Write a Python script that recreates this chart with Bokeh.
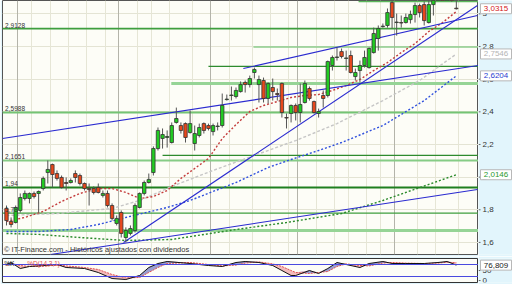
import numpy as np
from bokeh.plotting import figure
from bokeh.layouts import column, row
from bokeh.models import (Range1d, FixedTicker, Label, Grid, ColumnDataSource, Span)
from bokeh.core.properties import value
from bokeh.embed import file_html
from bokeh.resources import INLINE

# ---------------- data ----------------
opens = [1.808,1.728,1.722,1.796,1.869,1.869,1.900,1.900,1.930,2.028,
 2.077,2.022,1.998,1.967,1.967,2.022,2.010,1.961,1.930,1.930,
 1.937,1.888,1.900,1.826,1.716,1.783,1.630,1.655,1.673,1.814,
 1.900,1.967,2.028,2.175,2.237,2.243,2.212,2.335,2.316,2.328,
 2.273,2.206,2.255,2.328,2.316,2.279,2.310,2.316,2.475,2.500,
 2.494,2.524,2.580,2.567,2.641,2.567,2.592,2.482,2.549,2.512,
 2.573,2.365,2.390,2.439,2.396,2.457,2.543,2.463,2.390,2.500,
 2.500,2.684,2.733,2.769,2.727,2.745,2.616,2.653,2.684,2.671,
 2.763,2.849,2.922,2.929,3.069,2.947,2.947,2.947,2.965,2.996,
 3.051,3.057,2.947,3.057,3.094,3.120,3.105,3.125,3.035]
highs = [1.826,1.753,1.826,1.900,1.918,1.906,1.912,1.918,2.004,2.102,
 2.083,2.041,2.010,1.998,1.992,2.041,2.022,1.967,1.961,1.943,
 1.961,1.918,1.918,1.839,1.765,1.796,1.692,1.704,1.839,1.906,
 1.979,2.022,2.188,2.304,2.298,2.286,2.335,2.426,2.335,2.335,
 2.408,2.316,2.328,2.335,2.328,2.328,2.335,2.512,2.506,2.555,
 2.549,2.586,2.592,2.622,2.671,2.622,2.610,2.580,2.604,2.543,
 2.580,2.390,2.445,2.451,2.573,2.592,2.555,2.469,2.420,2.531,
 2.714,2.745,2.794,2.788,2.775,2.775,2.665,2.714,2.775,2.794,
 2.916,2.929,2.941,3.033,3.082,3.002,2.990,3.002,3.020,3.069,
 3.063,3.076,3.082,3.118,3.140,3.150,3.140,3.150,3.110]
lows = [1.704,1.692,1.716,1.783,1.857,1.839,1.869,1.783,1.918,1.961,
 1.937,1.979,1.930,1.918,1.961,1.967,1.949,1.918,1.826,1.894,
 1.900,1.875,1.814,1.734,1.704,1.630,1.600,1.643,1.661,1.808,
 1.888,1.961,2.010,2.163,2.175,2.181,2.206,2.328,2.267,2.212,
 2.267,2.163,2.243,2.267,2.286,2.255,2.286,2.304,2.469,2.469,
 2.482,2.518,2.518,2.549,2.604,2.457,2.457,2.451,2.469,2.469,
 2.365,2.298,2.335,2.347,2.335,2.451,2.469,2.390,2.365,2.426,
 2.488,2.653,2.714,2.727,2.653,2.635,2.592,2.580,2.671,2.665,
 2.757,2.775,2.916,2.916,2.910,2.867,2.916,2.941,2.941,2.947,
 2.978,2.929,2.941,2.990,3.080,3.090,3.085,3.075,3.027]
closes = [1.734,1.710,1.814,1.875,1.900,1.900,1.881,1.912,1.992,2.047,
 2.016,1.992,1.937,1.961,1.979,1.998,1.961,1.930,1.924,1.906,
 1.906,1.900,1.826,1.747,1.747,1.655,1.673,1.685,1.826,1.900,
 1.967,1.986,2.175,2.286,2.261,2.249,2.316,2.359,2.286,2.243,
 2.328,2.267,2.304,2.286,2.298,2.316,2.313,2.439,2.478,2.503,
 2.531,2.567,2.567,2.604,2.659,2.598,2.482,2.573,2.524,2.506,
 2.396,2.362,2.439,2.396,2.445,2.573,2.482,2.396,2.402,2.482,
 2.708,2.733,2.736,2.739,2.730,2.641,2.641,2.684,2.733,2.788,
 2.880,2.910,2.925,3.008,2.978,2.950,2.944,2.978,2.996,3.051,
 3.008,2.959,3.057,3.094,3.120,3.105,3.125,3.090,3.0315]

# moving averages (index, value)
ma_red_i = [0,4,8,12,16,20,23,26,29,32,35,38,41,44,47,50,53,56,59,62,65,68,71,74,77,80,83,86,89,92,95,98]
ma_red_v = [1.728,1.753,1.790,1.851,1.900,1.930,1.930,1.906,1.869,1.881,1.918,1.992,2.053,2.114,2.236,2.322,2.402,2.439,2.463,2.488,2.500,2.506,2.531,2.561,2.598,2.653,2.702,2.763,2.818,2.892,2.947,3.014]
ma_gray_i = [0,11,23,29,36,45,54,63,72,82,90,98]
ma_gray_v = [1.765,1.777,1.808,1.857,1.943,2.041,2.133,2.224,2.328,2.469,2.592,2.7546]
ma_blue_i = [0,7,14,20,26,35,40,50,57,62,68,73,82,91,98]
ma_blue_v = [1.667,1.667,1.679,1.710,1.753,1.814,1.857,1.967,2.059,2.108,2.163,2.212,2.316,2.469,2.6204]
ma_green_i = [0,7,16,26,36,50,61,73,82,98]
ma_green_v = [1.655,1.649,1.630,1.612,1.618,1.679,1.722,1.777,1.857,2.0146]

# horizontal support / resistance levels
h_levels = [3.076, 2.910, 2.797, 2.678, 2.573, 2.396, 2.133, 2.102, 1.937, 1.780, 1.673]
h_start = [76.7, -0.87, 53.8, 44.0, 35.9, -0.87, 34.0, -0.87, -0.87, -0.87, -0.87]
h_label_text = ["2,9128", "2,5988", "2,1651", "1,94", "1,78"]
h_label_level = [2.910, 2.396, 2.102, 1.937, 1.780]

# trend lines (index, price) endpoints
tr_x0 = [-0.87, 51.6, 25.5, 9.6]
tr_y0 = [2.237, 2.665, 1.600, 1.526]
tr_x1 = [102.83, 102.6, 102.6, 102.6]
tr_y1 = [2.684, 2.990, 3.051, 1.924]

price_ticks = [1.6, 1.8, 2.0, 2.2, 2.4, 2.6, 2.8, 3.0]
price_tick_labels = ["1,6", "1,8", "2", "2,2", "2,4", "2,6", "2,8", "3"]

# stochastic
st_i = [0,1,3,5,8,11,13,17,20,23,26,29,31,33,35,40,44,47,50,52,55,58,60,62,63,66,68,70,72,74,77,79,82,84,87,91,94,96,98]
st_k = [80,90,60,70,75,80,65,60,40,10,5,25,65,85,95,85,75,70,90,95,90,75,50,25,25,50,35,60,90,80,65,85,95,85,85,85,90,95,76.809]
st_d = [75,83,75,70,71,77,73,65,55,30,13,15,40,65,85,90,80,73,77,87,93,83,70,50,40,35,40,45,70,83,75,73,87,90,87,85,87,91,89]
st_ticks = [0, 50]
st_tick_labels = ["0", "50"]

# right-side value tags
tag_text = ["3,0315", "2,7546", "2,6204", "2,0146"]
tag_val = [3.0315, 2.7546, 2.6204, 2.0146]
tag_color = ["#d42020", "#b4b4b4", "#2a3cd0", "#2a9a2a"]

# ---------------- styling helpers ----------------
FONT = "Liberation Sans"
BG = "#fdfdf7"
SIDE = "#e2f5fc"
XR = Range1d(-0.87, 102.83)
SR = Range1d(0, 34)


def main_fig(h, yr, top, bottom, outline="#555555"):
    f = figure(width=478, height=h, x_range=XR, y_range=yr,
               output_backend="svg", toolbar_location=None,
               x_axis_location=None, y_axis_location=None,
               min_border_left=2, min_border_right=0,
               min_border_top=top, min_border_bottom=bottom,
               background_fill_color=BG, border_fill_color=SIDE,
               outline_line_color=outline)
    f.xgrid.grid_line_color = None
    f.ygrid.grid_line_color = None
    return f


def side_fig(h, yr, top, bottom):
    f = figure(width=34, height=h, x_range=SR, y_range=yr,
               output_backend="svg", toolbar_location=None,
               x_axis_location=None, y_axis_location=None,
               min_border_left=0, min_border_right=0,
               min_border_top=top, min_border_bottom=bottom,
               background_fill_color=SIDE, border_fill_color=SIDE,
               outline_line_color=None)
    f.xgrid.grid_line_color = None
    f.ygrid.grid_line_color = None
    return f


def side_axis(f, ticks, labels, tags):
    f.segment(x0=[0] * len(ticks), x1=[2] * len(ticks), y0=ticks, y1=ticks,
              line_color="#666666", line_width=1)
    f.text(x=[4] * len(ticks), y=ticks, text=labels, text_baseline="middle",
           text_align="left", text_font=value(FONT), text_font_size="8px",
           text_color="#333333")
    for t, v, col in tags:
        f.rect(x=[17.5], y=[v], width=[31], height=[10], height_units="screen",
               fill_color="white", line_color="#b8b8b8", line_width=1)
        f.text(x=[17.5], y=[v], text=[t], text_baseline="middle", text_align="center",
               text_font=value(FONT), text_font_size="8px", text_color=col)


# ---------------- main price panel ----------------
YR = Range1d(1.526, 3.082)
p = main_fig(256, YR, 0, 2)

p.add_layout(Grid(dimension=1, ticker=FixedTicker(ticks=price_ticks), grid_line_color="#e4e4d4"))
light_grid = [5.5, 9.5, 13.5, 17.5, 21.5, 28.5, 31.5, 35.5, 40.5, 48.5, 53.5, 57.5,
              61.5, 67.5, 71.5, 74.5, 78.5, 81.5, 89.5, 93.5, 98.5]
dark_grid = [2.5, 24.5, 44.5, 63.5, 84.5]
p.add_layout(Grid(dimension=0, ticker=FixedTicker(ticks=light_grid), grid_line_color="#e6e6d6"))
p.add_layout(Grid(dimension=0, ticker=FixedTicker(ticks=dark_grid), grid_line_color="#b4b4aa"))

idx = np.arange(len(closes))
o = np.array(opens); c = np.array(closes)
src = ColumnDataSource(dict(
    x=idx, top=np.maximum(o, c), bottom=np.minimum(o, c),
    hi=highs, lo=lows,
    color=np.where(c >= o, "#22cc22", "#e8481c")))

h_colors = ["#5cb85c", "#3e9e3e", "#8ccc8c", "#2e8b2e", "#96d496", "#74c474",
            "#2e8b2e", "#86cc86", "#1f7f1f", "#3e9e3e", "#96d496"]
h_widths = [1.5, 1.6, 1.5, 1.3, 3, 2, 1.3, 2, 2, 1.3, 3]
p.segment(x0=h_start, x1=[XR.end] * len(h_levels), y0=h_levels, y1=h_levels,
          line_color=h_colors, line_width=h_widths)

p.line(ma_green_i, ma_green_v, line_color="#2a8a2a", line_dash="2 2", line_width=1.4)
p.line(ma_blue_i, ma_blue_v, line_color="#3050dd", line_dash="2 2", line_width=1.4)
p.line(ma_gray_i, ma_gray_v, line_color="#c6c6c6", line_dash="3 2", line_width=1.4)
p.line(ma_red_i, ma_red_v, line_color="#c43c3c", line_dash="2 2", line_width=1.4)

p.segment(x0=tr_x0, y0=tr_y0, x1=tr_x1, y1=tr_y1, line_color="#2a2ad0", line_width=1.1)

p.segment(x0="x", x1="x", y0="lo", y1="hi", source=src, line_color="#555555", line_width=1)
p.vbar(x="x", width=0.74, top="top", bottom="bottom", source=src,
       fill_color="color", line_color="#333333", line_width=0.8)

for t, lv in zip(h_label_text, h_label_level):
    p.add_layout(Label(x=-0.3, y=lv, text=t, text_baseline="bottom", y_offset=1,
                       text_font=FONT, text_font_size="6.5px", text_color="#333333"))

p.add_layout(Label(x=-0.55, y=1.526, text="© IT-Finance.com - Históricos ajustados con dividendos",
                   text_baseline="bottom", y_offset=1, text_font=FONT,
                   text_font_size="7.5px", text_color="#333333"))

pr = side_fig(256, YR, 0, 2)
side_axis(pr, price_ticks, price_tick_labels, list(zip(tag_text, tag_val, tag_color)))

# ---------------- stochastic panel ----------------
SY = Range1d(-10, 110)
q = main_fig(28, SY, 2, 2, outline="#333333")
k = np.array(st_k, dtype=float); d = np.array(st_d, dtype=float)
upper = np.maximum(k, d)
q.varea(x=st_i, y1=d, y2=upper, fill_color="#8e94cc", fill_alpha=0.9)
q.varea(x=st_i, y1=k, y2=upper, fill_color="#f2b4b4", fill_alpha=0.9)
q.add_layout(Span(location=80, dimension="width", line_color="#4a4ae0", line_width=1))
q.add_layout(Span(location=20, dimension="width", line_color="#4a4ae0", line_width=1))
q.line(st_i, d, line_color="#e05050", line_dash="2 1", line_width=1)
q.line(st_i, k, line_color="#111111", line_width=1)
q.add_layout(Label(x=-0.5, y=110, text="%K", text_baseline="top", y_offset=-1,
                   text_font=FONT, text_font_size="6.5px", text_color="#222222"))
q.add_layout(Label(x=4.5, y=110, text="%D(14,3,1)", text_baseline="top", y_offset=-1,
                   text_font=FONT, text_font_size="6.5px", text_color="#e05050"))

qr = side_fig(28, SY, 2, 2)
side_axis(qr, st_ticks, st_tick_labels, [("76,809", st_k[-1], "#222222")])

# ---------------- next panel (cut off) ----------------
r = main_fig(4, Range1d(0, 1), 0, 0, outline="#333333")
r.add_layout(Label(x=-0.5, y=1, text="Mom (12)", text_baseline="top", y_offset=-1,
                   text_font=FONT, text_font_size="7px", text_color="#333333"))
rr = side_fig(4, Range1d(0, 1), 0, 0)

layout = column(row(p, pr, spacing=0), row(q, qr, spacing=0), row(r, rr, spacing=0), spacing=0)
open("out.html", "w").write(file_html(layout, INLINE))
